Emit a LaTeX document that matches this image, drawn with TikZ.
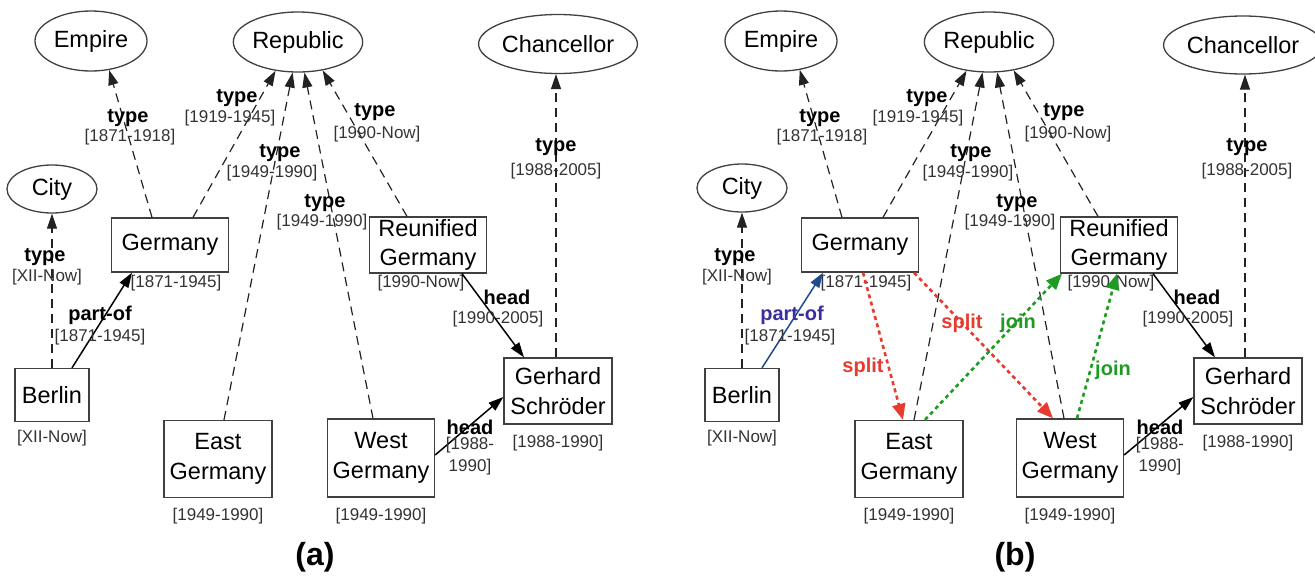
\documentclass[tikz,border=0pt]{standalone}
\usepackage{fontspec}
\setmainfont{Liberation Sans}
\usetikzlibrary{shapes.geometric,arrows.meta}
\definecolor{edgec}{HTML}{222222}
\definecolor{datec}{HTML}{333333}
\definecolor{splitred}{HTML}{E63B2E}
\definecolor{joingreen}{HTML}{1F9A22}
\definecolor{partblue}{HTML}{1F4A8C}
\definecolor{partlbl}{HTML}{3B2FA0}
\begin{document}
\begin{tikzpicture}[x=1pt,y=-1pt,
 cls/.style={ellipse,draw=black!75,line width=1.3pt,inner sep=0pt,font=\fontsize{23.5}{28}\selectfont},
 ent/.style={rectangle,draw=black!75,line width=1.3pt,inner sep=0pt,align=center,font=\fontsize{23.5}{29.5}\selectfont},
 typeedge/.style={draw=edgec,line width=1.2pt,dash pattern=on 9pt off 6pt,-{Triangle[length=15pt,width=10pt]}},
 solidedge/.style={draw=black,line width=1.5pt,-{Triangle[length=15pt,width=10pt]}},
 blueedge/.style={draw=partblue,line width=1.5pt,-{Triangle[length=15pt,width=10pt]}},
 splitedge/.style={draw=splitred,line width=2.6pt,dash pattern=on 4pt off 3.5pt,-{Triangle[length=16pt,width=13pt,fill=splitred]}},
 joinedge/.style={draw=joingreen,line width=2.6pt,dash pattern=on 4pt off 3.5pt,-{Triangle[length=16pt,width=13pt,fill=joingreen]}},
 rel/.style={inner sep=0pt,font=\fontsize{20}{22}\selectfont\bfseries},
 dt/.style={inner sep=0pt,text=datec,font=\fontsize{17}{20}\selectfont},
 capt/.style={inner sep=0pt,font=\fontsize{32}{36}\selectfont\bfseries}
]
\useasboundingbox (0,0) rectangle (1315,584);

%%%%%%%%%%%%%%%% panel (a)
\node[cls,minimum width=112pt,minimum height=60pt] (emp) at (91,41) {Empire};
\node[cls,minimum width=111pt,minimum height=60pt] (rep) at (298,42) {Republic};
\node[cls,minimum width=124pt,minimum height=59pt] (cha) at (558,44) {Chancellor};
\node[cls,minimum width=90pt,minimum height=48pt] (city) at (52,189) {City};
\node[ent,minimum width=117pt,minimum height=54pt] (ger) at (170,245) {Germany};
\node[ent,minimum width=74pt,minimum height=53pt] (ber) at (52,395) {Berlin};
\node[ent,minimum width=108pt,minimum height=77pt] (east) at (218,459) {East\\Germany};
\node[ent,minimum width=107pt,minimum height=78pt] (west) at (381,458) {West\\Germany};
\node[ent,minimum width=117pt,minimum height=56pt] (reu) at (428,245) {Reunified\\Germany};
\node[ent,minimum width=108pt,minimum height=66pt] (ges) at (558,391) {Gerhard\\Schröder};

\node[dt] (dger) at (176,283) {[1871-1945]};
\node[dt] (dreu) at (421,283) {[1990-Now]};
\node[dt] (dber) at (52,438) {[XII-Now]};
\node[dt] (deast) at (218,516) {[1949-1990]};
\node[dt] (dwest) at (381,516) {[1949-1990]};
\node[dt] (dges) at (558,443) {[1988-1990]};

\draw[typeedge] ([xshift=-18pt]ger.north) -- (emp.-58);
\draw[typeedge] ([xshift=23pt]ger.north) -- (rep.-128);
\draw[typeedge] ([xshift=6pt]east.north) -- (rep.-100);
\draw[typeedge] ([xshift=-8pt]west.north) -- (rep.-78);
\draw[typeedge] ([xshift=-21pt]reu.north) -- (rep.-49);
\draw[typeedge] ([xshift=-2pt]ges.north) -- ([xshift=-2pt]cha.south);
\draw[typeedge] (ber.north) -- (city.south);
\draw[solidedge] ([xshift=20pt]ber.north) -- ([xshift=-38pt]ger.south);
\draw[solidedge] ([xshift=34pt]reu.south) -- ([xshift=-34pt]ges.north);
\draw[solidedge] ([yshift=3pt]west.east) -- ([yshift=-6pt]ges.west);

\node[rel] (t1a) at (128,118) {type};
\node[dt] (d1a) at (130,137) {[1871-1918]};
\node[rel] (t2a) at (237,98) {type};
\node[dt] (d2a) at (230,118) {[1919-1945]};
\node[rel] (t3a) at (280,153) {type};
\node[dt] (d3a) at (272,173) {[1949-1990]};
\node[rel] (t4a) at (325,203) {type};
\node[dt] (d4a) at (322,222) {[1949-1990]};
\node[rel] (t5a) at (375,112) {type};
\node[dt] (d5a) at (377,134) {[1990-Now]};
\node[rel] (t6a) at (556,147) {type};
\node[dt] (d6a) at (556,171) {[1988-2005]};
\node[rel] (t7a) at (45,257) {type};
\node[dt] (d7a) at (47,277) {[XII-Now]};
\node[rel] (p1a) at (100,315) {part-of};
\node[dt] (p2a) at (100,337) {[1871-1945]};
\node[rel] (h1a) at (507,297) {head};
\node[dt] (h2a) at (498,319) {[1990-2005]};
\node[rel] (h3a) at (470,427) {head};
\node[dt] (h4a) at (470,445) {[1988-};
\node[dt] (h5a) at (470,467) {1990]};

\node[capt] (capa) at (315,557) {(a)};

%%%%%%%%%%%%%%%% panel (b)
\node[cls,minimum width=112pt,minimum height=60pt] (emp2) at (781,41) {Empire};
\node[cls,minimum width=111pt,minimum height=60pt] (rep2) at (989,42) {Republic};
\node[cls,minimum width=126pt,minimum height=58pt] (cha2) at (1243,45) {Chancellor};
\node[cls,minimum width=90pt,minimum height=48pt] (city2) at (742,188) {City};
\node[ent,minimum width=117pt,minimum height=54pt] (ger2) at (860,245) {Germany};
\node[ent,minimum width=74pt,minimum height=53pt] (ber2) at (742,395) {Berlin};
\node[ent,minimum width=108pt,minimum height=77pt] (east2) at (909,459) {East\\Germany};
\node[ent,minimum width=107pt,minimum height=78pt] (west2) at (1070,458) {West\\Germany};
\node[ent,minimum width=117pt,minimum height=56pt] (reu2) at (1119,245) {Reunified\\Germany};
\node[ent,minimum width=108pt,minimum height=66pt] (ges2) at (1248,391) {Gerhard\\Schröder};

\node[dt] (dger2) at (866,283) {[1871-1945]};
\node[dt] (dreu2) at (1111,283) {[1990-Now]};
\node[dt] (dber2) at (742,438) {[XII-Now]};
\node[dt] (deast2) at (909,516) {[1949-1990]};
\node[dt] (dwest2) at (1070,516) {[1949-1990]};
\node[dt] (dges2) at (1248,443) {[1988-1990]};

\draw[typeedge] ([xshift=-18pt]ger2.north) -- (emp2.-57);
\draw[typeedge] ([xshift=23pt]ger2.north) -- (rep2.-128);
\draw[typeedge] ([xshift=5pt]east2.north) -- (rep2.-102);
\draw[typeedge] ([xshift=-6pt]west2.north) -- (rep2.-75);
\draw[typeedge] ([xshift=-21pt]reu2.north) -- (rep2.-49);
\draw[typeedge] ([xshift=-3pt]ges2.north) -- ([xshift=2pt]cha2.south);
\draw[typeedge] (ber2.north) -- (city2.south);
\draw[blueedge] ([xshift=20pt]ber2.north) -- ([xshift=-37pt]ger2.south);
\draw[solidedge] ([xshift=34pt]reu2.south) -- ([xshift=-33pt]ges2.north);
\draw[solidedge] ([yshift=3pt]west2.east) -- ([yshift=-6pt]ges2.west);
\draw[splitedge] ([xshift=3pt]ger2.south) -- ([xshift=-6pt]east2.north);
\draw[splitedge] ([xshift=54pt]ger2.south) -- ([xshift=-17pt]west2.north);
\draw[joinedge] ([xshift=16pt]east2.north) -- ([xshift=-57pt]reu2.south);
\draw[joinedge] ([xshift=7pt]west2.north) -- ([xshift=-2pt]reu2.south);

\node[rel] (t1b) at (820,118) {type};
\node[dt] (d1b) at (822,137) {[1871-1918]};
\node[rel] (t2b) at (927,98) {type};
\node[dt] (d2b) at (918,118) {[1919-1945]};
\node[rel] (t3b) at (971,153) {type};
\node[dt] (d3b) at (968,173) {[1949-1990]};
\node[rel] (t4b) at (1017,203) {type};
\node[dt] (d4b) at (1010,222) {[1949-1990]};
\node[rel] (t5b) at (1064,112) {type};
\node[dt] (d5b) at (1068,134) {[1990-Now]};
\node[rel] (t6b) at (1247,147) {type};
\node[dt] (d6b) at (1247,171) {[1988-2005]};
\node[rel] (t7b) at (735,257) {type};
\node[dt] (d7b) at (737,277) {[XII-Now]};
\node[rel,text=partlbl] (p1b) at (792,315) {part-of};
\node[dt] (p2b) at (790,337) {[1871-1945]};
\node[rel,text=splitred] (s1b) at (863,367) {split};
\node[rel,text=splitred] (s2b) at (962,323) {split};
\node[rel,text=joingreen] (j1b) at (1018,323) {join};
\node[rel,text=joingreen] (j2b) at (1113,370) {join};
\node[rel] (h1b) at (1197,297) {head};
\node[dt] (h2b) at (1188,319) {[1990-2005]};
\node[rel] (h3b) at (1160,427) {head};
\node[dt] (h4b) at (1160,445) {[1988-};
\node[dt] (h5b) at (1160,467) {1990]};

\node[capt] (capb) at (1015,557) {(b)};
\end{tikzpicture}
\end{document}
